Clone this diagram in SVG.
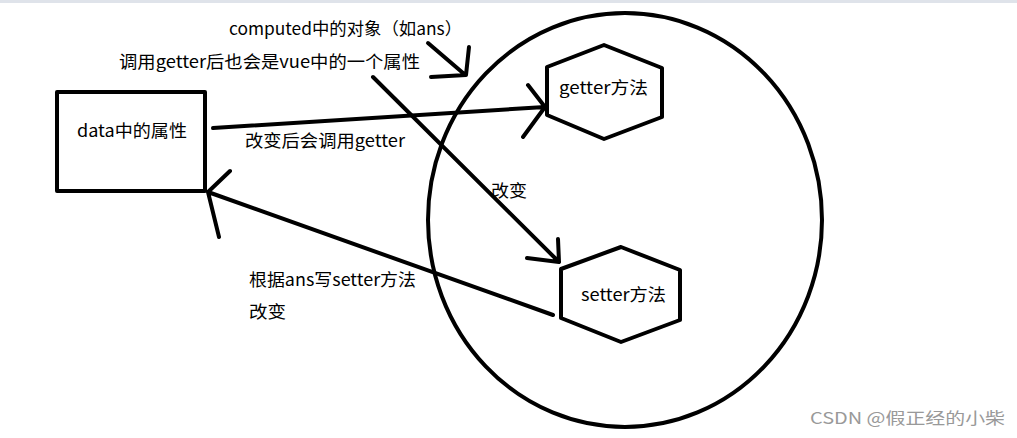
<svg xmlns="http://www.w3.org/2000/svg" width="1017" height="438" viewBox="0 0 1017 438">
<style>
.s{fill:none;stroke:#000;stroke-width:4;stroke-linecap:round;stroke-linejoin:round}
text{font-family:"Microsoft YaHei","Noto Sans CJK SC",sans-serif;font-size:17px;fill:#000}
</style>
<rect width="1017" height="438" fill="#fff"/>
<rect width="1017" height="3" fill="#dfe3ea"/>
<g id="circle"><ellipse class="s" cx="625" cy="220" rx="197" ry="207"/></g>
<g id="data"><rect class="s" x="57" y="92" width="148" height="99"/><text x="77" y="137" textLength="110" lengthAdjust="spacingAndGlyphs">data中的属性</text></g>
<g id="getter"><polygon class="s" points="604,45 662,68 662,117 604,139 547,115 547,67"/><text x="559" y="94" textLength="89" lengthAdjust="spacingAndGlyphs">getter方法</text></g>
<g id="setter"><polygon class="s" points="621,247 680,270 680,320 621,342 561,318 561,269"/><text x="581" y="301" textLength="85" lengthAdjust="spacingAndGlyphs">setter方法</text></g>
<g id="connectors">
<path class="s" d="M213,128 L545,107 M528,85 L545,107 L523,137"/>
<path class="s" d="M553,315 L208,192 M230,171 L208,192 L219,237"/>
<path class="s" d="M373,77 L559,262 M558,239 L559,262 L527,258"/>
<path class="s" d="M428,43 L463,73 M469,47 L466,75 L431,77"/>
</g>
<g id="labels">
<text x="229" y="35" textLength="233" lengthAdjust="spacingAndGlyphs">computed中的对象（如ans）</text>
<text x="119" y="68" textLength="301" lengthAdjust="spacingAndGlyphs">调用getter后也会是vue中的一个属性</text>
<text x="245" y="147" textLength="160" lengthAdjust="spacingAndGlyphs">改变后会调用getter</text>
<text x="491" y="197" textLength="36" lengthAdjust="spacingAndGlyphs">改变</text>
<text x="249" y="286" textLength="167" lengthAdjust="spacingAndGlyphs">根据ans写setter方法</text>
<text x="249" y="318" textLength="37" lengthAdjust="spacingAndGlyphs">改变</text>
<text x="810" y="424" style="fill:#999;font-size:16px" textLength="195" lengthAdjust="spacingAndGlyphs">CSDN @假正经的小柴</text>
</g>
</svg>
